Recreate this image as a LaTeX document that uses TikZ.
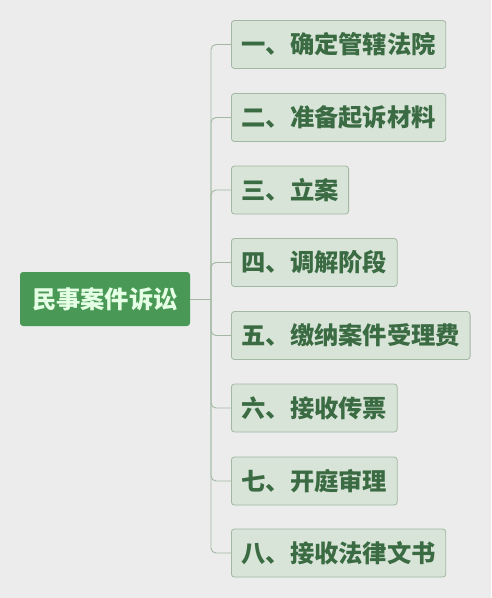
\documentclass[tikz,border=0pt]{standalone}
\usepackage{fontspec}
\newfontfamily\cjk{Noto Sans CJK SC}
\definecolor{bgc}{HTML}{ECECEC}
\definecolor{rootc}{HTML}{4A9856}
\definecolor{boxc}{HTML}{D7E4D7}
\definecolor{linec}{HTML}{A2B8A3}
\definecolor{txtc}{HTML}{3A6B42}
\begin{document}
\begin{tikzpicture}[x=1pt,y=-1pt,
    every node/.style={font=\cjk\bfseries\fontsize{24.3pt}{28pt}\selectfont},
    root/.style={fill=rootc,text=white!90!green,rounded corners=3pt,minimum width=170pt,minimum height=54pt,inner sep=0pt},
    item/.style={fill=boxc,draw=linec,line width=0.8pt,text=txtc,rounded corners=3pt,anchor=west,minimum height=48pt,inner xsep=10pt,inner ysep=0pt},
    link/.style={draw=linec,line width=0.9pt}]
      \fill [bgc] (0,0) rectangle (491,598);
      \useasboundingbox (0,0) rectangle (491,598);
      \node [root] (root) at (105,299) {民事案件诉讼};
      \coordinate (trunk) at (211,299);
      \node [item] (c1) at (231,44.5) {一、确定管辖法院};
      \node [item] (c2) at (231,117.5) {二、准备起诉材料};
      \node [item] (c3) at (231,190) {三、立案};
      \node [item] (c4) at (231,262.5) {四、调解阶段};
      \node [item] (c5) at (231,335.5) {五、缴纳案件受理费};
      \node [item] (c6) at (231,408) {六、接收传票};
      \node [item] (c7) at (231,481) {七、开庭审理};
      \node [item] (c8) at (231,553) {八、接收法律文书};
      \draw [link] (root.east) -- (trunk);
      \foreach \c in {c1,c2,c3,c4,c5,c6,c7,c8}
        \draw [link,rounded corners=5pt] (trunk) |- (\c.west);
\end{tikzpicture}
\end{document}
